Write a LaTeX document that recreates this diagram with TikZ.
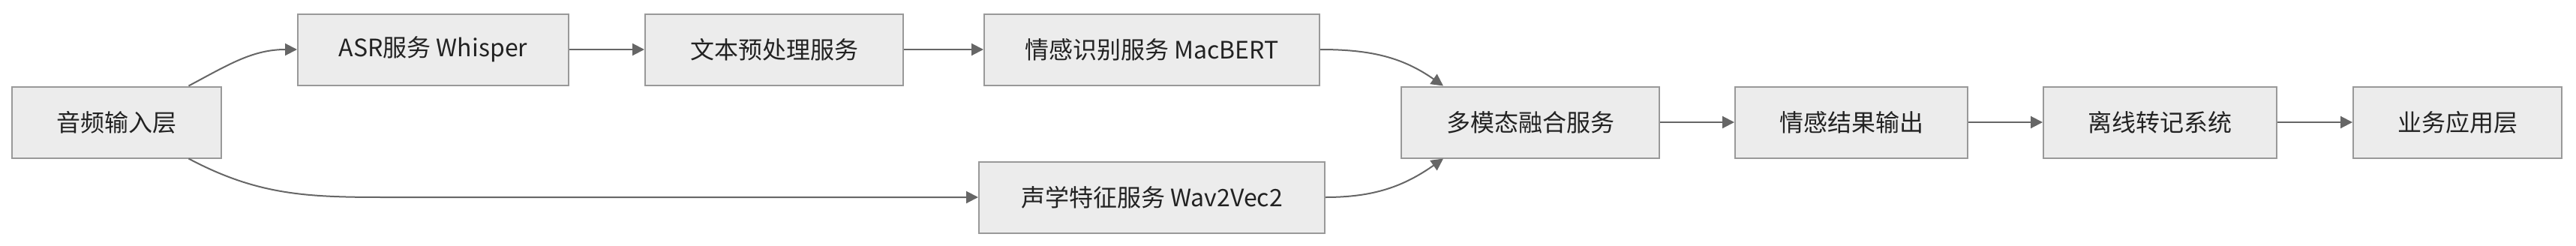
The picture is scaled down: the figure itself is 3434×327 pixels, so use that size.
\documentclass[tikz,border=0pt]{standalone}
\usepackage{fontspec}
\setmainfont{Noto Sans CJK SC}
\usepackage{tikz}
\usetikzlibrary{positioning,arrows.meta,calc}
\definecolor{boxfill}{HTML}{ECECEC}
\definecolor{boxline}{HTML}{999999}
\definecolor{edgeline}{HTML}{666666}
\definecolor{labeltext}{HTML}{222222}

\begin{document}
\begin{tikzpicture}[
  box/.style={draw=boxline, line width=2pt, fill=boxfill, minimum height=95pt, inner sep=0pt, font=\fontsize{32}{38}\selectfont, text=labeltext},
  arrow/.style={-{Triangle[length=16pt,width=16pt]}, line width=2pt, draw=edgeline},
]
\useasboundingbox (0,0) rectangle (3434pt,-327pt);
\node[box, minimum width=279pt] (audio) at (155.5pt,-163pt) {音频输入层};
\node[box, minimum width=361pt, above right=0pt and 100pt of audio] (asr) {ASR服务 Whisper};
\node[box, minimum width=344pt, right=100pt of asr] (prep) {文本预处理服务};
\node[box, minimum width=447pt, right=106pt of prep] (macbert) {情感识别服务 MacBERT};
\node[box, minimum width=461pt, below=100pt of macbert] (wav) {声学特征服务 Wav2Vec2};
\coordinate (join) at (macbert.east |- audio.east);
\node[box, minimum width=344pt, right=107pt of join] (fusion) {多模态融合服务};
\node[box, minimum width=310pt, right=99pt of fusion] (result) {情感结果输出};
\node[box, minimum width=311pt, right=99pt of result] (offline) {离线转记系统};
\node[box, minimum width=278pt, right=100pt of offline] (app) {业务应用层};

\draw[arrow] ([xshift=96pt]audio.north) to[out=28,in=180] (asr.west);
\draw[arrow] ([xshift=96pt]audio.south) to[out=-28,in=180] ($(wav.west)+(-790pt,0)$) -- (wav.west);
\draw[arrow] (asr) -- (prep);
\draw[arrow] (prep) -- (macbert);
\draw[arrow] (macbert.east) to[out=0,in=145] ([xshift=-116pt]fusion.north);
\draw[arrow] (wav.east) to[out=0,in=-145] ([xshift=-116pt]fusion.south);
\draw[arrow] (fusion) -- (result);
\draw[arrow] (result) -- (offline);
\draw[arrow] (offline) -- (app);
\end{tikzpicture}
\end{document}
